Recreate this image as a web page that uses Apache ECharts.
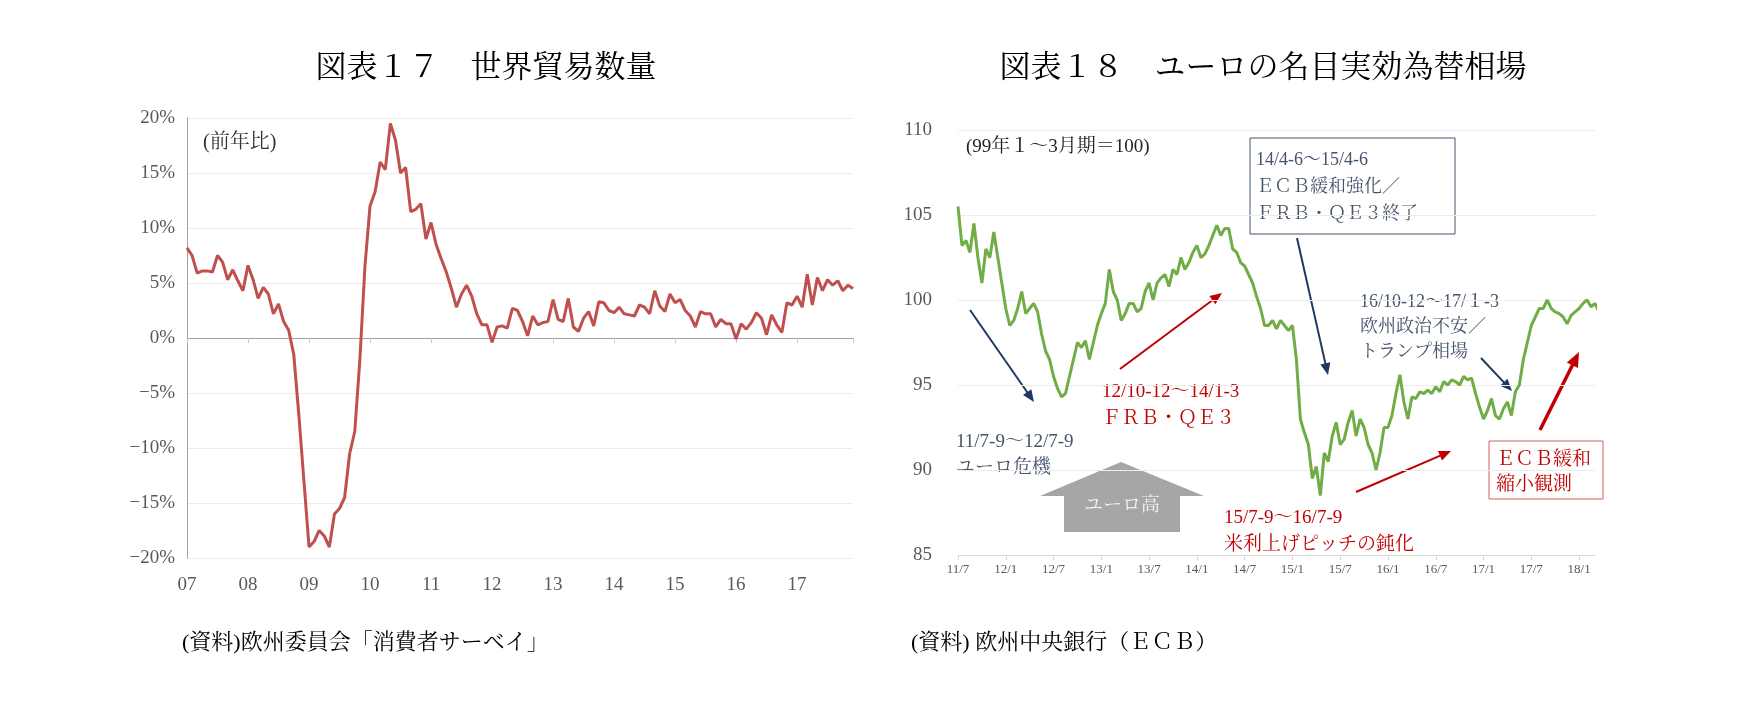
<!DOCTYPE html>
<html>
<head>
<meta charset="utf-8">
<script src="https://cdn.jsdelivr.net/npm/echarts@6/dist/echarts.min.js"></script>
<style>
  html, body { margin: 0; padding: 0; background: #fff; }
  #chart { width: 1745px; height: 708px; }
</style>
</head>
<body>
<div id="chart"></div>
<script>
// 図表17: world trade volume, monthly yoy %, 2007/1 - 2017/12
var tradeYears = ['07', '08', '09', '10', '11', '12', '13', '14', '15', '16', '17'];
var tradeYoy = [
    8.2, 7.5, 5.9, 6.1, 6.1, 6.0, 7.5, 6.9, 5.3, 6.2, 5.2, 4.3,
    6.6, 5.3, 3.6, 4.6, 4.0, 2.2, 3.1, 1.5, 0.7, -1.5, -7, -13,
    -19, -18.5, -17.5, -18, -19, -16, -15.5, -14.5, -10.5, -8.5, -2, 6.5,
    12, 13.3, 16, 15.3, 19.5, 18, 15, 15.5, 11.5, 11.7, 12.2, 9,
    10.5, 8.5, 7.2, 6, 4.5, 2.8, 4, 4.8, 3.8, 2.2, 1.2, 1.2,
    -0.4, 1, 1.1, 0.9, 2.7, 2.5, 1.5, 0.2, 2, 1.2, 1.4, 1.5,
    3.5, 1.7, 1.5, 3.6, 1, 0.6, 1.8, 2.4, 1.1, 3.3, 3.2, 2.5,
    2.3, 2.8, 2.2, 2.1, 2, 3, 2.8, 2.2, 4.3, 2.9, 2.4, 4,
    3.2, 3.5, 2.5, 2, 1, 2.4, 2.2, 2.2, 1, 1.7, 1.3, 1.3,
    -0.1, 1.3, 0.8, 1.4, 2.3, 1.8, 0.3, 2.1, 1.2, 0.5, 3.2, 3.0,
    3.8, 2.8, 5.8, 3.0, 5.5, 4.3, 5.3, 4.8, 5.2, 4.3, 4.8, 4.5
];

// 図表18: euro NEER (99Q1=100), half-month steps from 2011/7
var neer = [
    105.5, 103.2, 103.5, 102.8, 104.5, 102.5, 101, 103, 102.5, 104, 102.5, 101,
    99.5, 98.5, 98.8, 99.5, 100.5, 99.2, 99.5, 99.8, 99.3, 98, 97, 96.5,
    95.5, 94.8, 94.3, 94.5, 95.5, 96.5, 97.5, 97.2, 97.6, 96.5, 97.5, 98.5,
    99.2, 99.8, 101.8, 100.5, 100, 98.8, 99.2, 99.8, 99.8, 99.3, 99.5, 100.5,
    101, 100, 101, 101.3, 101.5, 100.8, 101.8, 101.5, 102.5, 101.8, 102.2, 102.8,
    103.2, 102.5, 102.7, 103.2, 103.8, 104.4, 103.8, 104.2, 104.2, 103, 102.8, 102.2,
    102, 101.5, 101, 100.2, 99.5, 98.5, 98.5, 98.8, 98.3, 98.8, 98.5, 98.2,
    98.5, 96.5, 93, 92.2, 91.5, 89.5, 90.2, 88.5, 91.0, 90.5, 92.0, 92.8,
    91.5, 91.8, 92.8, 93.5, 92.0, 93.0, 92.5, 91.5, 91.0, 90.0,
    91.0, 92.5, 92.5, 93.2, 94.5, 95.6, 94.0, 93.0, 94.3, 94.2, 94.6, 94.5,
    94.7, 94.5, 94.9, 94.6, 95.2, 95.0, 95.3, 95.2, 95.0, 95.5, 95.3, 95.4,
    94.5, 93.7, 93.0, 93.5, 94.2, 93.2, 93.0, 93.6, 94.0, 93.2, 94.6, 95.0,
    96.5, 97.5, 98.5, 99, 99.5, 99.5, 100, 99.5, 99.3, 99.2, 99.0, 98.6,
    99.1, 99.3, 99.5, 99.8, 100, 99.6, 99.8, 99.3
];

var FONT = "'Liberation Serif', 'Noto Serif CJK JP', 'Noto Sans CJK JP', serif";
var NAVY = '#44546a';
var RED = '#c00000';

var chart = echarts.init(document.getElementById('chart'));

function txt(x, y, s, color, size, align) {
    return {
        type: 'text', x: x, y: y,
        style: { text: s, fill: color, font: (size || 18) + 'px ' + FONT, textAlign: align || 'left', textVerticalAlign: 'middle' }
    };
}
function arrow(x1, y1, x2, y2, color, w) {
    var a = Math.atan2(y2 - y1, x2 - x1), L = 9 + w * 2, s = 0.4;
    return [
        { type: 'line', shape: { x1: x1, y1: y1, x2: x2 - Math.cos(a) * L * 0.7, y2: y2 - Math.sin(a) * L * 0.7 }, style: { stroke: color, lineWidth: w } },
        { type: 'polygon', shape: { points: [[x2, y2],
            [x2 - L * Math.cos(a - s), y2 - L * Math.sin(a - s)],
            [x2 - L * Math.cos(a + s), y2 - L * Math.sin(a + s)]] }, style: { fill: color } }
    ];
}

var graphics = [
    txt(486, 69, '図表１７　世界貿易数量', '#000', 31, 'center'),
    txt(1263, 69, '図表１８　ユーロの名目実効為替相場', '#000', 31, 'center'),
    txt(182, 643, '(資料)欧州委員会「消費者サーベイ」', '#000', 22),
    txt(911, 643, '(資料) 欧州中央銀行（ＥＣＢ）', '#000', 22),
    txt(203, 143, '(前年比)', '#333', 20),
    txt(966, 147, '(99年１～3月期＝100)', '#222', 19),
    { type: 'rect', shape: { x: 1250, y: 138, width: 205, height: 96 }, style: { fill: '#fff', stroke: NAVY, lineWidth: 1 } },
    txt(1256, 160, '14/4-6～15/4-6', NAVY, 18),
    txt(1256, 187, 'ＥＣＢ緩和強化／', NAVY, 18),
    txt(1256, 214, 'ＦＲＢ・ＱＥ３終了', NAVY, 18),
    txt(956, 442, '11/7-9～12/7-9', NAVY, 19),
    txt(956, 468, 'ユーロ危機', NAVY, 19),
    txt(1102, 392, '12/10-12～14/1-3', RED, 19),
    txt(1102, 419, 'ＦＲＢ・ＱＥ３', RED, 19),
    txt(1224, 518, '15/7-9～16/7-9', RED, 19),
    txt(1224, 545, '米利上げピッチの鈍化', RED, 19),
    txt(1360, 302, '16/10-12～17/１-3', NAVY, 18),
    txt(1360, 327, '欧州政治不安／', NAVY, 18),
    txt(1360, 352, 'トランプ相場', NAVY, 18),
    { type: 'rect', shape: { x: 1489, y: 441, width: 114, height: 58 }, style: { fill: '#fff', stroke: '#d06060', lineWidth: 1 } },
    txt(1496, 460, 'ＥＣＢ緩和', RED, 19),
    txt(1496, 485, '縮小観測', RED, 19),
    { type: 'polygon', shape: { points: [[1121, 462], [1204, 496], [1180, 496], [1180, 532], [1064, 532], [1064, 496], [1040, 496]] }, style: { fill: '#a6a6a6' } },
    txt(1122, 506, 'ユーロ高', '#f2f2f2', 19, 'center')
]
    .concat(arrow(970, 310, 1034, 402, '#1f3864', 2))
    .concat(arrow(1297, 238, 1328, 375, '#1f3864', 2))
    .concat(arrow(1481, 358, 1512, 391, '#1f3864', 2))
    .concat(arrow(1120, 369, 1222, 293, RED, 2))
    .concat(arrow(1356, 492, 1451, 451, RED, 2))
    .concat(arrow(1540, 430, 1579, 352, RED, 3.5));

var axisLabelStyle = { color: '#595959', fontFamily: FONT };

var option = {
    animation: false,
    grid: [
        { left: 187, right: 892, top: 118, bottom: 150 },
        { left: 958, right: 150, top: 130, bottom: 153 }
    ],
    xAxis: [
        {
            gridIndex: 0, type: 'value', min: 0, max: 131, interval: 12,
            axisLine: { onZero: true, lineStyle: { color: '#a0a0a0' } },
            axisTick: { show: true, length: 5, lineStyle: { color: '#c8c8c8' } },
            axisLabel: { show: false }, splitLine: { show: false }
        },
        {
            gridIndex: 0, type: 'value', min: 0, max: 131, interval: 12, position: 'bottom',
            axisLine: { show: false, onZero: false }, axisTick: { show: false }, splitLine: { show: false },
            axisLabel: Object.assign({ fontSize: 19, margin: 18, formatter: function (v) { return tradeYears[v / 12] || ''; } }, axisLabelStyle)
        },
        {
            gridIndex: 1, type: 'value', min: 0, max: 80, interval: 6,
            axisLine: { onZero: false, lineStyle: { color: '#d9d9d9' } },
            axisTick: { show: true, lineStyle: { color: '#d9d9d9' } }, splitLine: { show: false },
            axisLabel: Object.assign({ fontSize: 13, margin: 8, formatter: function (m) {
                return (11 + Math.floor((m + 6) / 12)) + '/' + (m % 12 === 0 ? 7 : 1);
            } }, axisLabelStyle)
        }
    ],
    yAxis: [
        {
            gridIndex: 0, type: 'value', min: -20, max: 20, interval: 5,
            axisLine: { show: true, lineStyle: { color: '#a0a0a0' } }, axisTick: { show: false },
            splitLine: { lineStyle: { color: '#ececec' } },
            axisLabel: Object.assign({ fontSize: 19, margin: 12, formatter: function (v) { return (v < 0 ? '−' + (-v) : v) + '%'; } }, axisLabelStyle)
        },
        {
            gridIndex: 1, type: 'value', min: 85, max: 110, interval: 5,
            axisLine: { show: false }, axisTick: { show: false },
            splitLine: { lineStyle: { color: '#ececec' } },
            axisLabel: Object.assign({ fontSize: 19, margin: 26 }, axisLabelStyle)
        }
    ],
    series: [
        {
            type: 'line', xAxisIndex: 0, yAxisIndex: 0, symbol: 'none',
            lineStyle: { color: '#c0504d', width: 3 },
            data: tradeYoy.map(function (v, i) { return [i, v]; })
        },
        {
            type: 'line', xAxisIndex: 2, yAxisIndex: 1, symbol: 'none',
            lineStyle: { color: '#70ad47', width: 3 },
            data: neer.map(function (v, i) { return [i * 0.5, v]; })
        }
    ],
    graphic: graphics
};

chart.setOption(option);
</script>
</body>
</html>
